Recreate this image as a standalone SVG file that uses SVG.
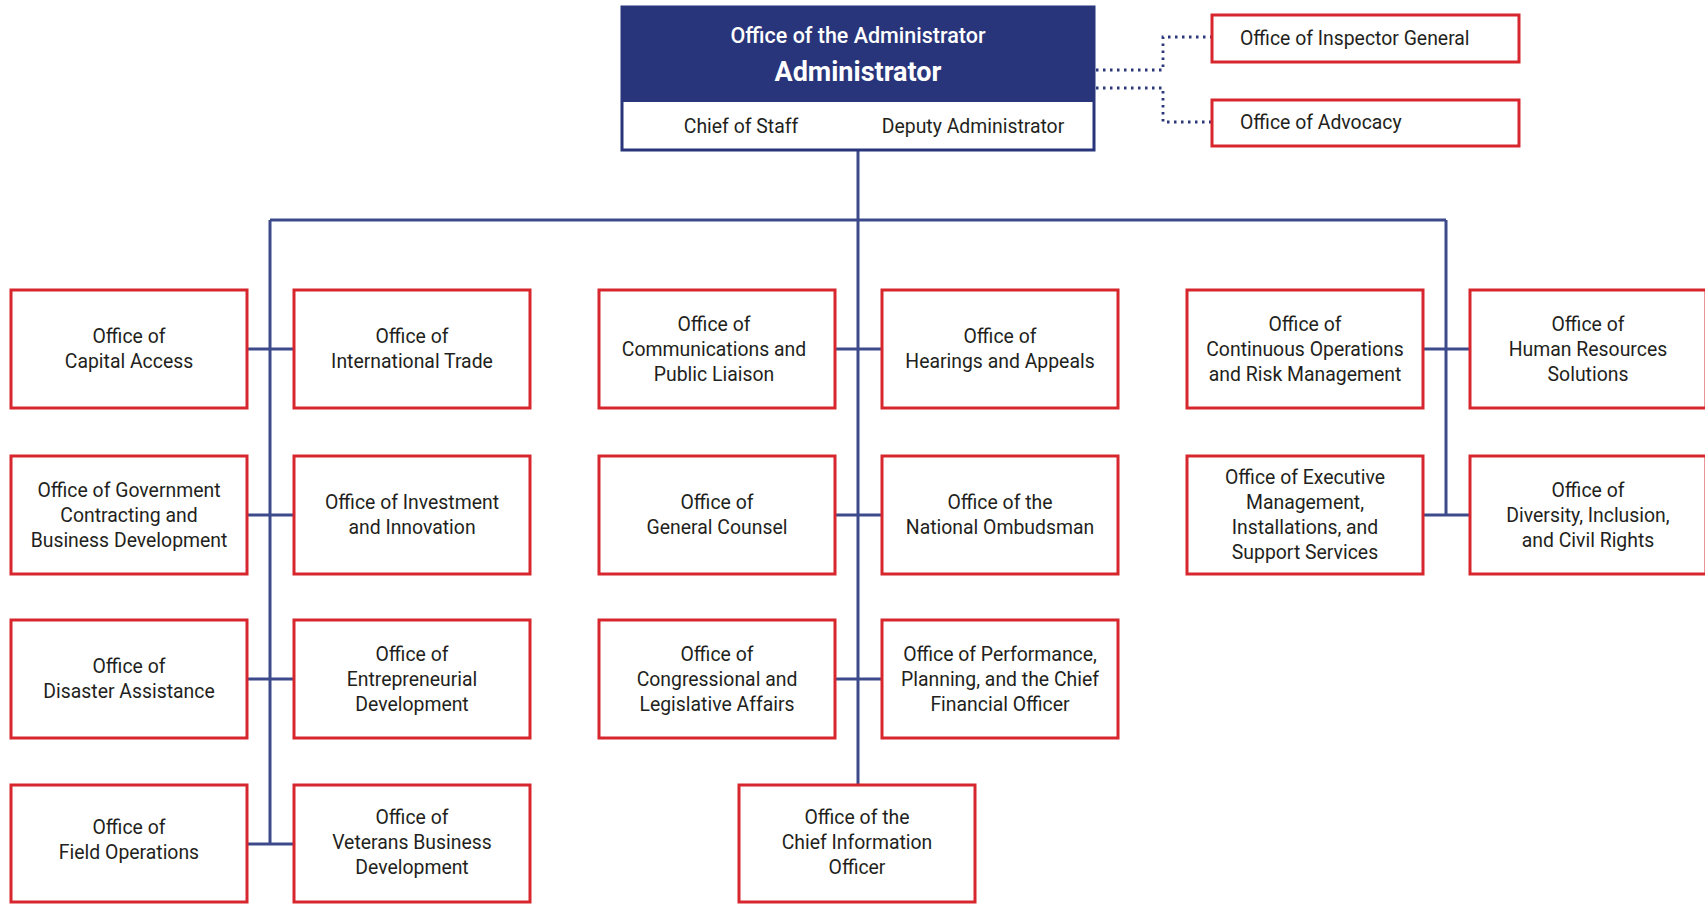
<svg xmlns="http://www.w3.org/2000/svg" width="1705" height="904" viewBox="0 0 1705 904">
<style>
.box{fill:#fff;stroke:#d7262d;stroke-width:3}
.t{font-family:Roboto,"Liberation Sans",sans-serif;font-size:19.4px;fill:#231f20;text-anchor:middle}
.tl{font-family:Roboto,"Liberation Sans",sans-serif;font-size:19.4px;fill:#231f20}
.ln{stroke:#3c4a8c;stroke-width:3;fill:none}
.dot{stroke:#2b3778;stroke-width:2.8;fill:none;stroke-dasharray:2.5 4.5}
</style>
<rect width="1705" height="904" fill="#fff"/>
<g id="connectors">
<path class="ln" d="M858 150V785M270 220H1446M270 220V844M1446 220V515"/>
<path class="ln" d="M247 349H294M247 515H294M247 679H294M247 844H294M835 349H882M835 515H882M835 679H882M1423 349H1470M1423 515H1470"/>
<path class="dot" d="M1096 70H1163V37H1212M1096 88H1163V122H1212"/>
</g>
<g id="admin">
<rect x="622" y="7" width="472" height="143" fill="#fff" stroke="#28357a" stroke-width="3"/>
<rect x="622" y="7" width="472" height="95" fill="#28357a"/>
<text x="858" y="43" class="t" style="fill:#fff;font-weight:500;font-size:21.5px">Office of the Administrator</text>
<text x="858" y="81" class="t" style="fill:#fff;font-weight:700;font-size:27px">Administrator</text>
<text x="741" y="133" class="t">Chief of Staff</text>
<text x="973" y="133" class="t">Deputy Administrator</text>
</g>
<g id="ig"><rect class="box" x="1212" y="15" width="307" height="47"/><text class="tl" x="1240" y="45">Office of Inspector General</text></g>
<g id="advocacy"><rect class="box" x="1212" y="100" width="307" height="46"/><text class="tl" x="1240" y="129">Office of Advocacy</text></g>
<g id="capital"><rect class="box" x="11" y="290" width="236" height="118"/><text class="t" x="129" y="343">Office of</text><text class="t" x="129" y="368">Capital Access</text></g>
<g id="intl"><rect class="box" x="294" y="290" width="236" height="118"/><text class="t" x="412" y="343">Office of</text><text class="t" x="412" y="368">International Trade</text></g>
<g id="comms"><rect class="box" x="599" y="290" width="236" height="118"/><text class="t" x="714" y="331">Office of</text><text class="t" x="714" y="356">Communications and</text><text class="t" x="714" y="381">Public Liaison</text></g>
<g id="hearings"><rect class="box" x="882" y="290" width="236" height="118"/><text class="t" x="1000" y="343">Office of</text><text class="t" x="1000" y="368">Hearings and Appeals</text></g>
<g id="continuous"><rect class="box" x="1187" y="290" width="236" height="118"/><text class="t" x="1305" y="331">Office of</text><text class="t" x="1305" y="356">Continuous Operations</text><text class="t" x="1305" y="381">and Risk Management</text></g>
<g id="hr"><rect class="box" x="1470" y="290" width="236" height="118"/><text class="t" x="1588" y="331">Office of</text><text class="t" x="1588" y="356">Human Resources</text><text class="t" x="1588" y="381">Solutions</text></g>
<g id="govcon"><rect class="box" x="11" y="456" width="236" height="118"/><text class="t" x="129" y="497">Office of Government</text><text class="t" x="129" y="522">Contracting and</text><text class="t" x="129" y="547">Business Development</text></g>
<g id="invest"><rect class="box" x="294" y="456" width="236" height="118"/><text class="t" x="412" y="509">Office of Investment</text><text class="t" x="412" y="534">and Innovation</text></g>
<g id="counsel"><rect class="box" x="599" y="456" width="236" height="118"/><text class="t" x="717" y="509">Office of</text><text class="t" x="717" y="534">General Counsel</text></g>
<g id="ombudsman"><rect class="box" x="882" y="456" width="236" height="118"/><text class="t" x="1000" y="509">Office of the</text><text class="t" x="1000" y="534">National Ombudsman</text></g>
<g id="exec"><rect class="box" x="1187" y="456" width="236" height="118"/><text class="t" x="1305" y="484">Office of Executive</text><text class="t" x="1305" y="509">Management,</text><text class="t" x="1305" y="534">Installations, and</text><text class="t" x="1305" y="559">Support Services</text></g>
<g id="diversity"><rect class="box" x="1470" y="456" width="236" height="118"/><text class="t" x="1588" y="497">Office of</text><text class="t" x="1588" y="522">Diversity, Inclusion,</text><text class="t" x="1588" y="547">and Civil Rights</text></g>
<g id="disaster"><rect class="box" x="11" y="620" width="236" height="118"/><text class="t" x="129" y="673">Office of</text><text class="t" x="129" y="698">Disaster Assistance</text></g>
<g id="entre"><rect class="box" x="294" y="620" width="236" height="118"/><text class="t" x="412" y="661">Office of</text><text class="t" x="412" y="686">Entrepreneurial</text><text class="t" x="412" y="711">Development</text></g>
<g id="congress"><rect class="box" x="599" y="620" width="236" height="118"/><text class="t" x="717" y="661">Office of</text><text class="t" x="717" y="686">Congressional and</text><text class="t" x="717" y="711">Legislative Affairs</text></g>
<g id="perf"><rect class="box" x="882" y="620" width="236" height="118"/><text class="t" x="1000" y="661">Office of Performance,</text><text class="t" x="1000" y="686">Planning, and the Chief</text><text class="t" x="1000" y="711">Financial Officer</text></g>
<g id="field"><rect class="box" x="11" y="785" width="236" height="117"/><text class="t" x="129" y="834">Office of</text><text class="t" x="129" y="859">Field Operations</text></g>
<g id="veterans"><rect class="box" x="294" y="785" width="236" height="117"/><text class="t" x="412" y="824">Office of</text><text class="t" x="412" y="849">Veterans Business</text><text class="t" x="412" y="874">Development</text></g>
<g id="cio"><rect class="box" x="739" y="785" width="236" height="117"/><text class="t" x="857" y="824">Office of the</text><text class="t" x="857" y="849">Chief Information</text><text class="t" x="857" y="874">Officer</text></g>
</svg>
